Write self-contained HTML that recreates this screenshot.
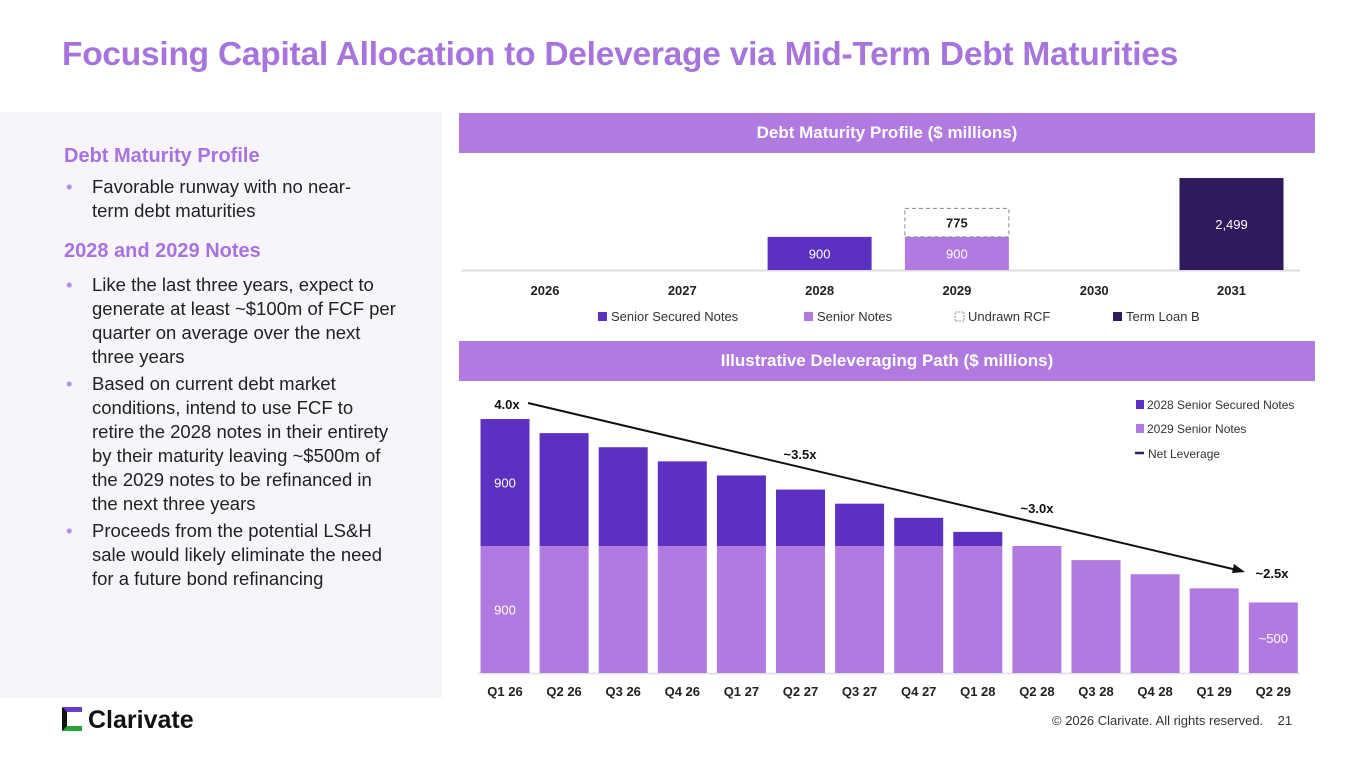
<!DOCTYPE html>
<html><head><meta charset="utf-8"><style>
body{margin:0;width:1365px;height:766px;background:#fff;font-family:"Liberation Sans",sans-serif;position:relative;overflow:hidden}
.abs{position:absolute}
h1{position:absolute;left:62px;top:36px;margin:0;font-size:33.5px;font-weight:bold;color:#a774dc;letter-spacing:-0.25px;white-space:nowrap}
.panel{left:0;top:112px;width:442px;height:586px;background:#f8f4fc}
.sh{position:absolute;left:64px;font-size:20px;font-weight:bold;color:#a774dc}
ul{position:absolute;left:64px;margin:0;padding:0;list-style:none;width:334px}
li{font-size:18.5px;line-height:24px;color:#222;padding-left:28px;position:relative;margin-bottom:3px}
li:before{content:"•";position:absolute;left:2px;color:#b58fe0}
.hdr{left:459px;width:856px;height:40px;background:#b07ae0;color:#fff;font-weight:bold;font-size:17px;text-align:center;line-height:40px}
</style></head><body>
<h1>Focusing Capital Allocation to Deleverage via Mid-Term Debt Maturities</h1>
<div class="abs panel"></div>
<div class="sh" style="top:145px">Debt Maturity Profile</div>
<ul style="top:175px;width:310px"><li>Favorable runway with no near-term debt maturities</li></ul>
<div class="sh" style="top:240px">2028 and 2029 Notes</div>
<ul style="top:273px">
<li>Like the last three years, expect to generate at least ~$100m of FCF per quarter on average over the next three years</li>
<li>Based on current debt market conditions, intend to use FCF to retire the 2028 notes in their entirety by their maturity leaving ~$500m of the 2029 notes to be refinanced in the next three years</li>
<li>Proceeds from the potential LS&amp;H sale would likely eliminate the need for a future bond refinancing</li></ul>
<div class="abs hdr" style="top:113px">Debt Maturity Profile ($ millions)</div>
<div class="abs hdr" style="top:341px">Illustrative Deleveraging Path ($ millions)</div>
<svg class="abs" style="left:0;top:0" width="1365" height="766" id="svg" font-family="Liberation Sans, sans-serif"></svg>
<div class="abs" style="left:62px;top:706px;font-size:25px;font-weight:bold;color:#111"><span style="display:inline-block;width:20px;height:24px;vertical-align:-3px;border-left:5px solid #111;border-top:5px solid #6a3bc4;border-bottom:5px solid #2aa33a;box-sizing:border-box;margin-right:6px"></span>Clarivate</div>
<div class="abs" style="left:1052px;top:713px;font-size:13px;color:#333">© 2026 Clarivate. All rights reserved.&nbsp;&nbsp;&nbsp;&nbsp;21</div>
<script>
const NS="http://www.w3.org/2000/svg",svg=document.getElementById('svg');
function mk(t,a,txt){const e=document.createElementNS(NS,t);for(const k in a)e.setAttribute(k,a[k]);if(txt!=null)e.textContent=txt;svg.appendChild(e);return e;}
// Top chart data
const years=["2026","2027","2028","2029","2030","2031"];
const seniorSecured=[0,0,900,0,0,0];
const seniorNotes=[0,0,0,900,0,0];
const undrawnRCF=[0,0,0,775,0,0];
const termLoanB=[0,0,0,0,0,2499];
// Bottom chart data
const quarters=["Q1 26","Q2 26","Q3 26","Q4 26","Q1 27","Q2 27","Q3 27","Q4 27","Q1 28","Q2 28","Q3 28","Q4 28","Q1 29","Q2 29"];
const notes2028=[900,800,700,600,500,400,300,200,100,0,0,0,0,0];
const notes2029=[900,900,900,900,900,900,900,900,900,900,800,700,600,500];
const leverageStart=4.0, leverageEnd=2.5;
const leverageLabels=["4.0x","~3.5x","~3.0x","~2.5x"];
const C1="#5c30c0",C2="#b07ae0",C3="#2e1a5c";
// top axes
const tx=i=>545+i*137.3, ty=v=>270-v*0.0368;
mk('line',{x1:462,x2:1300,y1:270.5,y2:270.5,stroke:'#ddd','stroke-width':2});
years.forEach((y,i)=>{
 const w=104,x=tx(i)-w/2;let base=0;
 [[seniorSecured,C1,'senior-secured-bar'],[seniorNotes,C2,'senior-notes-bar'],[termLoanB,C3,'term-loan-b-bar']].forEach(([arr,c,n])=>{
  if(arr[i]>0){const r=mk('rect',{x:x,y:ty(base+arr[i]),width:w,height:ty(base)-ty(base+arr[i]),fill:c});
   
   const t=mk('text',{x:tx(i),y:(ty(base)+ty(base+arr[i]))/2+5,'text-anchor':'middle',fill:'#fff','font-size':13},arr[i].toLocaleString('en-US'));
   base+=arr[i];}
 });
 if(undrawnRCF[i]>0){const r=mk('rect',{x:x,y:ty(base+undrawnRCF[i]),width:w,height:ty(base)-ty(base+undrawnRCF[i]),fill:'none',stroke:'#888','stroke-dasharray':'4,3'});
  
  const t=mk('text',{x:tx(i),y:(ty(base)+ty(base+undrawnRCF[i]))/2+5,'text-anchor':'middle',fill:'#222','font-size':13,'font-weight':'bold'},undrawnRCF[i]);
  }
 const t=mk('text',{x:tx(i),y:295,'text-anchor':'middle',fill:'#222','font-size':13,'font-weight':'bold'},y);
 
});
[[598,C1,'Senior Secured Notes'],[804,C2,'Senior Notes'],[955,'none','Undrawn RCF'],[1113,C3,'Term Loan B']].forEach(([x,c,l])=>{
 const r=mk('rect',{x:x,y:312,width:9,height:9,fill:c,stroke:c=='none'?'#999':'none','stroke-dasharray':'2,1'});
 
 const t=mk('text',{x:x+13,y:321,fill:'#333','font-size':13},l);
 
});
// bottom chart
const bx=i=>505+i*59.1, by=v=>673-v*0.1411, bw=49;
mk('line',{x1:478,x2:1300,y1:673.5,y2:673.5,stroke:'#e4e4e4','stroke-width':2});
quarters.forEach((q,i)=>{
 const r2=mk('rect',{x:bx(i)-bw/2,y:by(notes2029[i]),width:bw,height:by(0)-by(notes2029[i]),fill:C2});
 
 if(notes2028[i]>0){const r1=mk('rect',{x:bx(i)-bw/2,y:by(notes2029[i]+notes2028[i]),width:bw,height:by(notes2029[i])-by(notes2029[i]+notes2028[i]),fill:C1});
  }
 const t=mk('text',{x:bx(i),y:696,'text-anchor':'middle',fill:'#222','font-size':13,'font-weight':'bold'},q);
 
});
[[bx(0),(by(notes2029[0])+by(notes2029[0]+notes2028[0]))/2+5,notes2028[0]],[bx(0),(by(0)+by(notes2029[0]))/2+5,notes2029[0]],[bx(13),by(0)-30,'~'+notes2029[13]]].forEach(([x,y,v])=>{
 const t=mk('text',{x:x,y:y,'text-anchor':'middle',fill:'#fff','font-size':13},v);
 
});
// leverage line
const lx0=528,lx1=1245,ly=v=>403+(leverageStart-v)/(leverageStart-leverageEnd)*169;
const ln=mk('line',{x1:lx0,y1:ly(leverageStart),x2:lx1-8,y2:ly(leverageEnd)-2,stroke:'#111','stroke-width':2});

const ar=mk('polygon',{points:`${lx1},${ly(leverageEnd)} ${lx1-11},${ly(leverageEnd)-8} ${lx1-13},${ly(leverageEnd)+1}`,fill:'#111'});

[[507,409],[800,459],[1037,513],[1272,578]].forEach(([x,y],k)=>{
 const t=mk('text',{x:x,y:y,'text-anchor':'middle',fill:'#111','font-size':13,'font-weight':'bold'},leverageLabels[k]);
 
});
[[409,C1,'2028 Senior Secured Notes'],[433,C2,'2029 Senior Notes']].forEach(([y,c,l])=>{
 const r=mk('rect',{x:1136,y:y-9,width:8,height:9,fill:c});
 const t=mk('text',{x:1147,y:y,fill:'#333','font-size':12},l);
});
const lg=mk('line',{x1:1135,x2:1144,y1:453,y2:453,stroke:C3,'stroke-width':2.5});
const lt=mk('text',{x:1148,y:458,fill:'#333','font-size':12},'Net Leverage');
</script>
</body></html>
